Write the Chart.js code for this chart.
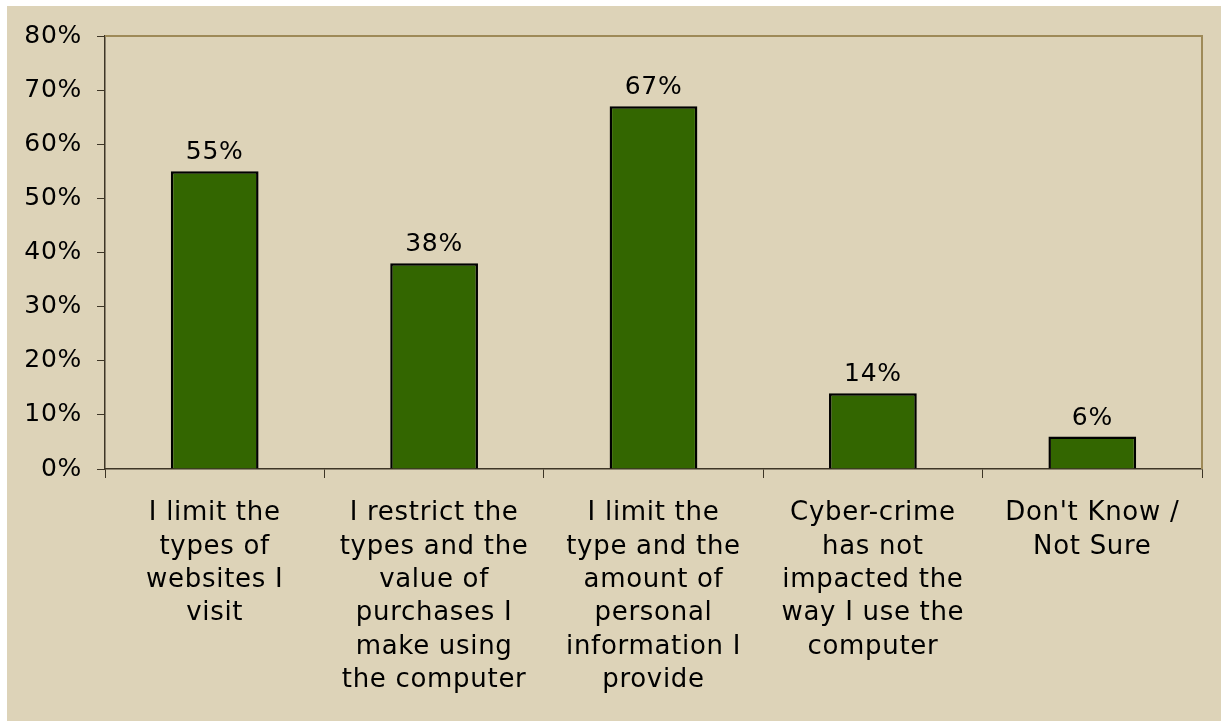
<!DOCTYPE html>
<html>
<head>
<meta charset="utf-8">
<script src="https://cdn.jsdelivr.net/npm/chart.js@4.4.0/dist/chart.umd.min.js"></script>
<style>
  html, body { margin: 0; padding: 0; background: #fff; }
  #wrap { position: absolute; left: 7px; top: 6px; width: 1214px; height: 715px; background: #ddd3b8; }
</style>
</head>
<body>
<div id="wrap"><canvas id="chart" width="1214" height="715"></canvas></div>
<script>
// --- data ---
const categories = [
  ['I limit the', 'types of', 'websites I', 'visit'],
  ['I restrict the', 'types and the', 'value of', 'purchases I', 'make using', 'the computer'],
  ['I limit the', 'type and the', 'amount of', 'personal', 'information I', 'provide'],
  ['Cyber-crime', 'has not', 'impacted the', 'way I use the', 'computer'],
  ["Don't Know /", 'Not Sure']
];
const values = [55, 38, 67, 14, 6];
const yTicks = [0, 10, 20, 30, 40, 50, 60, 70, 80];

const FONT = '"DejaVu Sans", Verdana, sans-serif';
const axisColor = '#3d3526';
const frameColor = '#9e8a58';

// the original text is a bit more spaced out than DejaVu
const spacing = {
  id: 'spacing',
  beforeLayout(chart) { chart.ctx.letterSpacing = '0.7px'; },
  beforeDraw(chart) { chart.ctx.letterSpacing = '0.7px'; }
};

// value labels above each bar
const barLabels = {
  id: 'barLabels',
  afterDatasetsDraw(chart) {
    const ctx = chart.ctx;
    const meta = chart.getDatasetMeta(0);
    ctx.save();
    ctx.font = '25px ' + FONT;
    ctx.fillStyle = '#000';
    ctx.textAlign = 'center';
    ctx.textBaseline = 'alphabetic';
    meta.data.forEach((bar, i) => {
      ctx.fillText(values[i] + '%', bar.x, bar.y - 12);
    });
    ctx.restore();
  }
};

// top and right edge of the plot area
const plotFrame = {
  id: 'plotFrame',
  beforeDatasetsDraw(chart) {
    const a = chart.chartArea;
    const ctx = chart.ctx;
    ctx.save();
    ctx.strokeStyle = frameColor;
    ctx.lineWidth = 2;
    ctx.beginPath();
    ctx.moveTo(a.left, a.top);
    ctx.lineTo(a.right, a.top);
    ctx.lineTo(a.right, a.bottom);
    ctx.stroke();
    ctx.restore();
  }
};

new Chart(document.getElementById('chart'), {
  type: 'bar',
  data: {
    labels: categories,
    datasets: [{
      data: values,
      backgroundColor: '#336600',
      borderColor: '#000',
      borderWidth: 2.5,
      borderSkipped: 'bottom',
      categoryPercentage: 1,
      barPercentage: 0.4
    }]
  },
  options: {
    responsive: false,
    animation: false,
    layout: { padding: { left: 0, top: 29, right: 19, bottom: 0 } },
    plugins: { legend: { display: false }, tooltip: { enabled: false } },
    scales: {
      x: {
        grid: { display: true, drawOnChartArea: false, drawTicks: true, tickLength: 9, tickColor: axisColor, offset: true },
        border: { display: true, color: axisColor, width: 1.5 },
        ticks: { color: '#000', font: { family: FONT, size: 26, lineHeight: 1.28 }, padding: 19, maxRotation: 0, autoSkip: false },
        afterFit(scale) { scale.height = 252; }
      },
      y: {
        min: 0,
        max: 80,
        afterBuildTicks(scale) { scale.ticks = yTicks.map(v => ({ value: v })); },
        grid: { display: true, drawOnChartArea: false, drawTicks: true, tickLength: 8, tickColor: axisColor },
        border: { display: true, color: axisColor, width: 1.5 },
        ticks: { color: '#000', font: { family: FONT, size: 25 }, padding: 15, callback: v => v + '%' },
        afterFit(scale) { scale.width = 98; }
      }
    }
  },
  plugins: [spacing, plotFrame, barLabels]
});
</script>
</body>
</html>
